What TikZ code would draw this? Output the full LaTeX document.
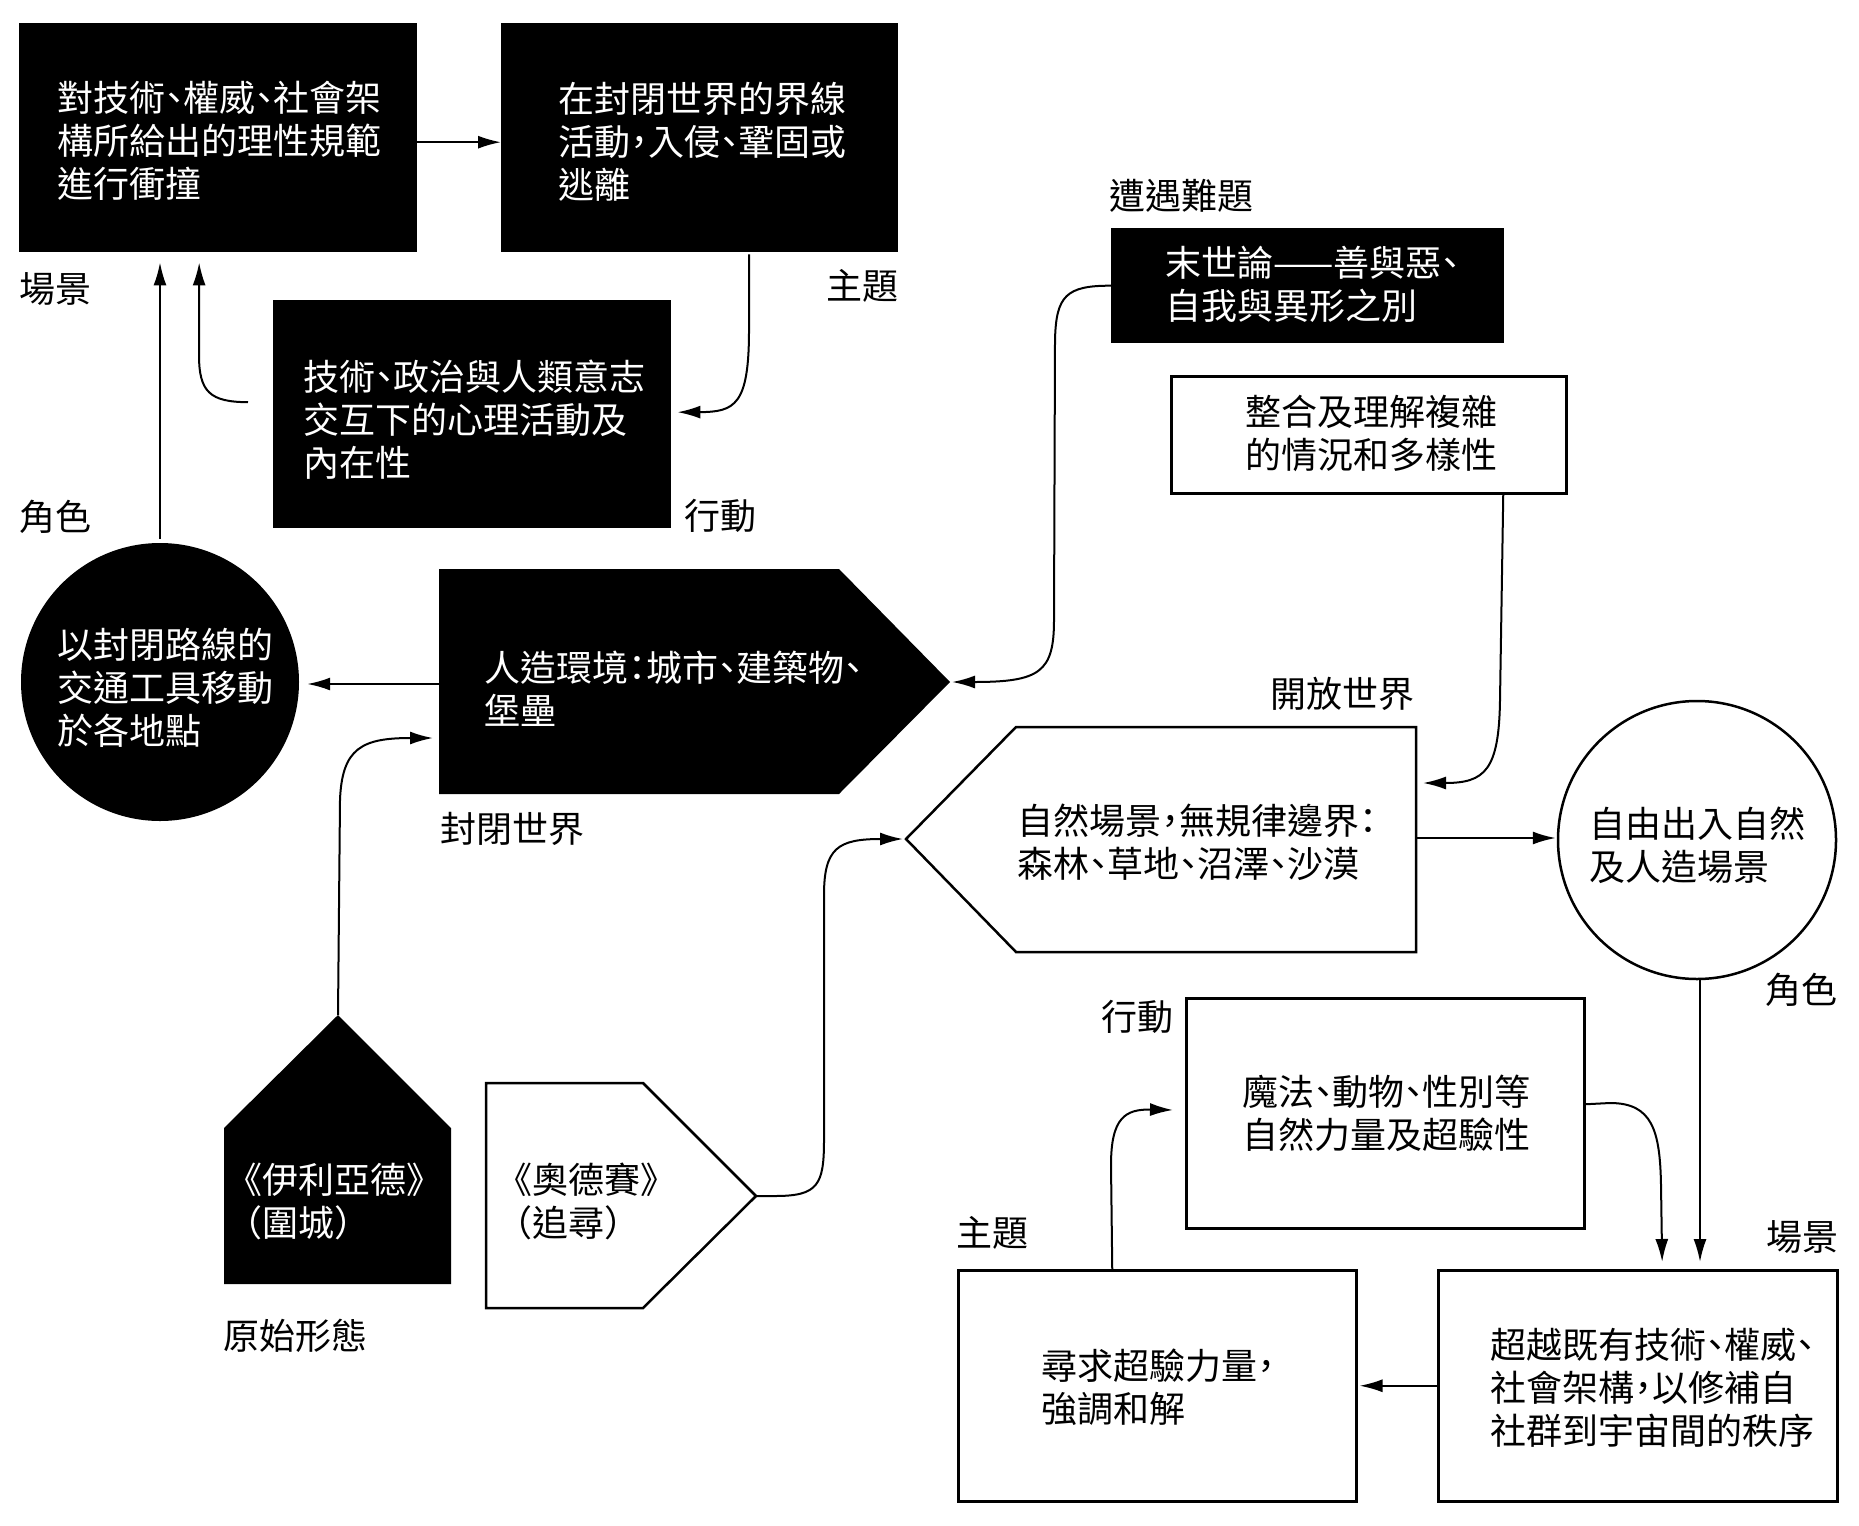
\documentclass[tikz,border=0pt]{standalone}
\usepackage{fontspec}
\setmainfont{Noto Sans CJK TC}[RawFeature=+halt]
\usetikzlibrary{arrows.meta}
\begin{document}
\begin{tikzpicture}[x=1pt,y=-1pt,
  blk/.style={fill=black,draw=none,inner sep=0pt,anchor=north west},
  wbox/.style={fill=white,draw=black,line width=2.5pt,inner sep=0pt,anchor=north west},
  txt/.style={anchor=west,inner sep=0pt,align=left,font=\fontsize{36}{43}\selectfont},
  wtxt/.style={txt,text=white},
  lbl/.style={anchor=west,inner sep=0pt,font=\fontsize{36}{43}\selectfont},
  arr/.style={line width=2pt,-{Latex[length=23pt,width=13pt]}}]
\useasboundingbox (0,0) rectangle (1859,1525);
\fill[white] (0,0) rectangle (1859,1525);

% ---------- shapes ----------
\node[blk,minimum width=398pt,minimum height=229pt] (A) at (19,23) {};
\node[blk,minimum width=397pt,minimum height=229pt] (B) at (501,23) {};
\node[blk,minimum width=398pt,minimum height=228pt] (C) at (273,300) {};
\node[circle,fill=black,inner sep=0pt,minimum size=278pt] (D) at (160,682) {};
\fill[black] (439,569) -- (839,569) -- (950,682) -- (839,794) -- (439,794) -- cycle;
\coordinate (Gtip) at (950,682);
\coordinate (Gleft) at (439,684);
\node[blk,minimum width=393pt,minimum height=115pt] (E) at (1111,228) {};
\node[wbox,minimum width=395pt,minimum height=117pt] (F) at (1170,375) {};
\draw[fill=white,line width=2.5pt] (906,839) -- (1016,727) -- (1416,727) -- (1416,952) -- (1016,952) -- cycle;
\coordinate (Htip) at (906,839);
\coordinate (Hright) at (1416,838);
\node[circle,draw=black,line width=2.5pt,fill=white,inner sep=0pt,minimum size=278pt] (I) at (1697,840) {};
\node[wbox,minimum width=398pt,minimum height=230pt] (J) at (1185,997) {};
\node[wbox,minimum width=399pt,minimum height=231pt] (K) at (1437,1269) {};
\node[wbox,minimum width=398pt,minimum height=231pt] (L) at (957,1269) {};
\fill[black] (338,1015) -- (451,1128) -- (451,1284) -- (224,1284) -- (224,1128) -- cycle;
\coordinate (Iltop) at (338,1015);
\draw[fill=white,line width=2.5pt] (486,1083) -- (643,1083) -- (756,1196) -- (643,1308) -- (486,1308) -- cycle;
\coordinate (Odtip) at (756,1196);

% ---------- texts ----------
\node[wtxt] (tA) at (57,141) {對技術、權威、社會架\\構所給出的理性規範\\進行衝撞};
\node[wtxt] (tB) at (558,142) {在封閉世界的界線\\活動，入侵、鞏固或\\逃離};
\node[wtxt] (tC) at (303,420) {技術、政治與人類意志\\交互下的心理活動及\\內在性};
\node[wtxt] (tD) at (57,688) {以封閉路線的\\交通工具移動\\於各地點};
\node[wtxt] (tG) at (484,689) {人造環境：城市、建築物、\\堡壘};
\node[wtxt] (tE) at (1165,284) {末世論——善與惡、\\自我與異形之別};
\node[txt] (tF) at (1245,433) {整合及理解複雜\\的情況和多樣性};
\node[txt] (tH) at (1017,842) {自然場景，無規律邊界：\\森林、草地、沼澤、沙漠};
\node[txt] (tI) at (1589,845) {自由出入自然\\及人造場景};
\node[txt] (tJ) at (1242,1113) {魔法、動物、性別等\\自然力量及超驗性};
\node[txt] (tK) at (1490,1388) {超越既有技術、權威、\\社會架構，以修補自\\社群到宇宙間的秩序};
\node[txt] (tL) at (1041,1387) {尋求超驗力量，\\強調和解};
\node[wtxt] (tIl) at (244,1201) {《伊利亞德》\\（圍城）};
\node[txt] (tOd) at (514,1201) {《奧德賽》\\（追尋）};

% ---------- labels ----------
\node[lbl] (l1) at (19,289) {場景};
\node[lbl,anchor=east] (l2) at (899,286) {主題};
\node[lbl] (l3) at (19,517) {角色};
\node[lbl] (l4) at (684,516) {行動};
\node[lbl] (l5) at (1109,196) {遭遇難題};
\node[lbl] (l6) at (440,829) {封閉世界};
\node[lbl] (l7) at (1270,694) {開放世界};
\node[lbl] (l8) at (1765,990) {角色};
\node[lbl] (l9) at (1101,1017) {行動};
\node[lbl] (l10) at (956,1233) {主題};
\node[lbl] (l11) at (1766,1237) {場景};
\node[lbl] (l12) at (223,1336) {原始形態};

% ---------- connectors ----------
\draw[arr] ([yshift=-4.5pt]A.east) -- ([yshift=-4.5pt]B.west);
\draw[arr,shorten >=6pt] ([xshift=49.5pt,yshift=-2pt]B.south) -- (749,330) .. controls (749,405) and (735,412) .. ([yshift=2pt]C.east);
\draw[arr,shorten >=10pt] ([xshift=-25pt,yshift=12pt]C.west) .. controls (210,402) and (199,392) .. (199,355) -- ([xshift=-19pt]A.south);
\draw[arr,shorten >=10pt] ([yshift=4pt]D.north) -- (D.north |- A.south);
\draw[arr,shorten >=8pt] (Gleft) -- (D.east |- Gleft);
\draw[arr,shorten >=2pt] (E.west) .. controls (1066,285.5) and (1056,296) .. (1055,340) -- (1054,620) .. controls (1054,672) and (1040,682) .. (Gtip);
\draw[arr,shorten >=6pt] (Iltop) -- (340,800) .. controls (342,748) and (362,738) .. ([yshift=-54pt]Gleft);
\draw[arr,shorten >=7pt] ([xshift=134.5pt]F.south) -- (1500,700) .. controls (1499,770) and (1485,783) .. ([yshift=55pt]Hright);
\draw[arr,shorten >=1pt] (Hright) -- (Hright -| I.west);
\draw[arr,shorten >=3pt] (Odtip) -- (775,1196) .. controls (818,1196) and (824,1185) .. (824,1140) -- (824,895) .. controls (824,848) and (838,839) .. (Htip);
\draw[arr,shorten >=7pt] ([yshift=9pt]J.east) -- (1610,1103) .. controls (1652,1103) and (1660,1130) .. (1661,1185) -- ([xshift=24.5pt]K.north);
\draw[arr,shorten >=7pt] ([xshift=3pt]I.south) -- ([xshift=3pt]I.south |- K.north);
\draw[arr,shorten >=2pt] (K.west) -- (K.west -| L.east);
\draw[arr,shorten >=12pt] ([xshift=-45pt]L.north) -- (1111,1165) .. controls (1111,1118) and (1125,1109) .. ([yshift=3pt]J.west);
\end{tikzpicture}
\end{document}
